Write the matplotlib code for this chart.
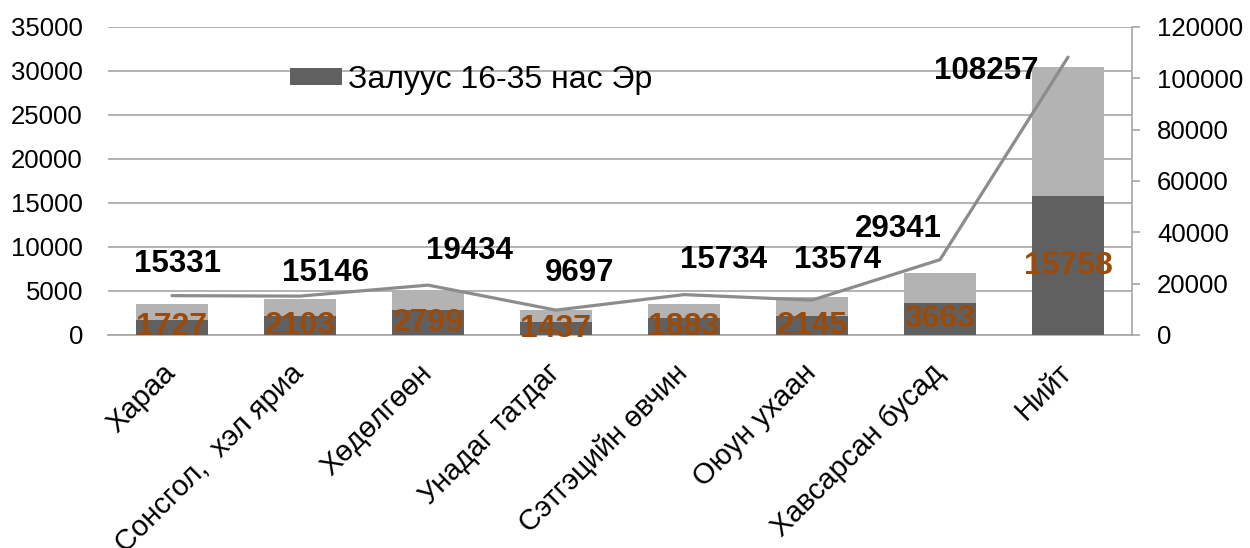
import matplotlib
matplotlib.use("Agg")
import matplotlib.pyplot as plt
import matplotlib.transforms as mtransforms
import numpy as np

plt.rcParams['font.family'] = ['Liberation Sans', 'DejaVu Sans']

categories = ["Хараа", "Сонсгол,  хэл яриа", "Хөдөлгөөн", "Унадаг татдаг",
              "Сэтгэцийн өвчин", "Оюун ухаан", "Хавсарсан бусад", "Нийт"]
male_youth = [1727, 2103, 2799, 1437, 1883, 2145, 3663, 15758]
female_youth = [1790, 1990, 2310, 1400, 1640, 2130, 3380, 14640]
total_all = [15331, 15146, 19434, 9697, 15734, 13574, 29341, 108257]
legend_label = "Залуус 16-35 нас Эр"

left_ticks = [0, 5000, 10000, 15000, 20000, 25000, 30000, 35000]
right_ticks = [0, 20000, 40000, 60000, 80000, 100000, 120000]

# label offsets in pixels (style)
line_label_offsets = [(6, 32), (25, 23), (41, 34), (24, 37), (39, 35), (25, 40), (-42, 31), (-82, -14)]

DPI = 100
fig = plt.figure(figsize=(12.5, 5.48), dpi=DPI)
ax = fig.add_axes([108/1250, 1-335/548, (1132-108)/1250, (335-27)/548])
ax2 = ax.twinx()

x = np.arange(len(categories))
dark = '#606060'
light = '#b3b3b3'
brown = '#9c4a0a'
grid_c = '#a6a6a6'

ax.set_zorder(1)
ax2.set_zorder(2)
ax2.patch.set_visible(False)

bars_m = ax.bar(x, male_youth, width=0.57, color=dark, label=legend_label, zorder=3)
ax.bar(x, female_youth, width=0.57, bottom=male_youth, color=light, zorder=3)

ax.set_ylim(0, 35000)
ax.set_xlim(-0.5, len(categories) - 0.5)
ax.set_yticks(left_ticks)
ax.set_yticklabels([str(t) for t in left_ticks], fontsize=18.5)
ax.tick_params(axis='y', length=0, pad=18)
ax.grid(axis='y', color=grid_c, linewidth=1.2, zorder=0)
ax.set_axisbelow(True)
for s in ['left', 'top', 'right']:
    ax.spines[s].set_visible(False)
ax.spines['bottom'].set_color(grid_c)
ax.spines['bottom'].set_linewidth(1.2)

ax.set_xticks(x)
ax.set_xticklabels(categories, fontsize=21, rotation=45, ha='right', va='top',
                   rotation_mode='anchor')
ax.tick_params(axis='x', length=0, pad=17)
offset = mtransforms.ScaledTranslation(-7.5/72, 0, fig.dpi_scale_trans)
for lbl in ax.get_xticklabels():
    lbl.set_transform(lbl.get_transform() + offset)

for xi, v in zip(x, male_youth):
    ax.text(xi, v / 2, str(v), ha='center', va='center', fontsize=23,
            fontweight='bold', color=brown, zorder=5)

ax2.plot(x, total_all, color='#8c8c8c', linewidth=2.3, solid_capstyle='round', zorder=4)
ax2.set_ylim(0, 120000)
ax2.set_yticks(right_ticks)
ax2.set_yticklabels([str(t) for t in right_ticks], fontsize=18.5)
ax2.tick_params(axis='y', length=6, width=1.2, color=grid_c, pad=12, direction='out')
for s in ['left', 'top', 'bottom']:
    ax2.spines[s].set_visible(False)
ax2.spines['right'].set_color(grid_c)
ax2.spines['right'].set_linewidth(1.2)

for xi, v, (dx, dy) in zip(x, total_all, line_label_offsets):
    ax2.annotate(str(v), (xi, v), xytext=(dx * 72 / DPI, dy * 72 / DPI),
                 textcoords='offset points', ha='center', va='center',
                 fontsize=22.5, fontweight='bold', color='black', zorder=6)

leg = ax.legend(handles=[bars_m], labels=[legend_label], loc='center left',
                bbox_to_anchor=((290-108)/1024, (335-80)/308), frameon=False,
                fontsize=23, handlelength=1.63, handleheight=0.47,
                handletextpad=0.2, borderpad=0, borderaxespad=0)

fig.savefig('out.png', dpi=DPI)
